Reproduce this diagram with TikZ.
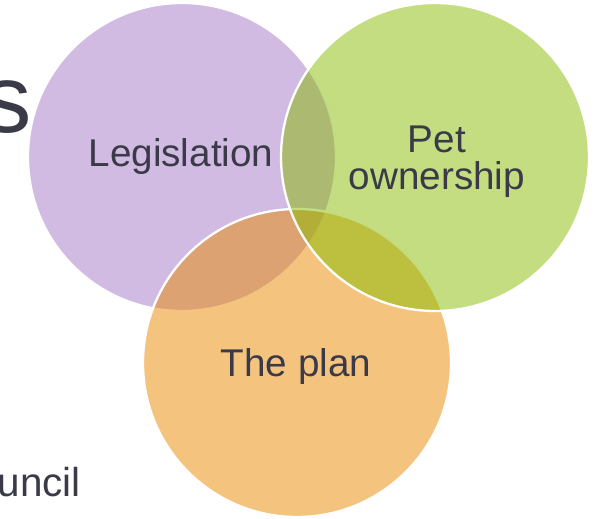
\documentclass[tikz,border=0pt]{standalone}
\usepackage{fontspec}
\setmainfont{Liberation Sans}
\definecolor{legcol}{RGB}{165,119,199}
\definecolor{petcol}{RGB}{135,187,1}
\definecolor{plancol}{RGB}{233,137,0}
\definecolor{txtcol}{RGB}{58,58,72}
\tikzset{
  venn/.style={draw=white,line width=1.3pt,fill opacity=0.5},
  lbl/.style={text=txtcol,inner sep=0pt,font=\fontsize{22}{21}\selectfont}
}
\begin{document}
\begin{tikzpicture}[x=0.02cm,y=-0.02cm]
        \useasboundingbox (0,0) rectangle (598,519);
        \clip (0,0) rectangle (598,519);
        \coordinate (leg) at (182,157);
        \coordinate (pet) at (435,157);
        \coordinate (plan) at (297,363);
        % background text, cut at the left edge
        \node[lbl,font=\fontsize{55}{60}\selectfont,anchor=base east] (big) at (32,133) {s};
        \node[lbl,font=\fontsize{23}{26}\selectfont,anchor=base east] (council) at (81,497) {uncil};
        % the three circles
        \foreach \c/\col in {leg/legcol,plan/plancol,pet/petcol}
            \fill[venn,fill=\col] (\c) circle (154);
        \node[lbl,anchor=base] (legtxt) at (181,167) {Legislation};
        \node[lbl,align=center] (pettxt) at (437,162) {Pet\\ownership};
        \node[lbl,anchor=base] (plantxt) at (296,377) {The plan};
    \end{tikzpicture}
\end{document}
